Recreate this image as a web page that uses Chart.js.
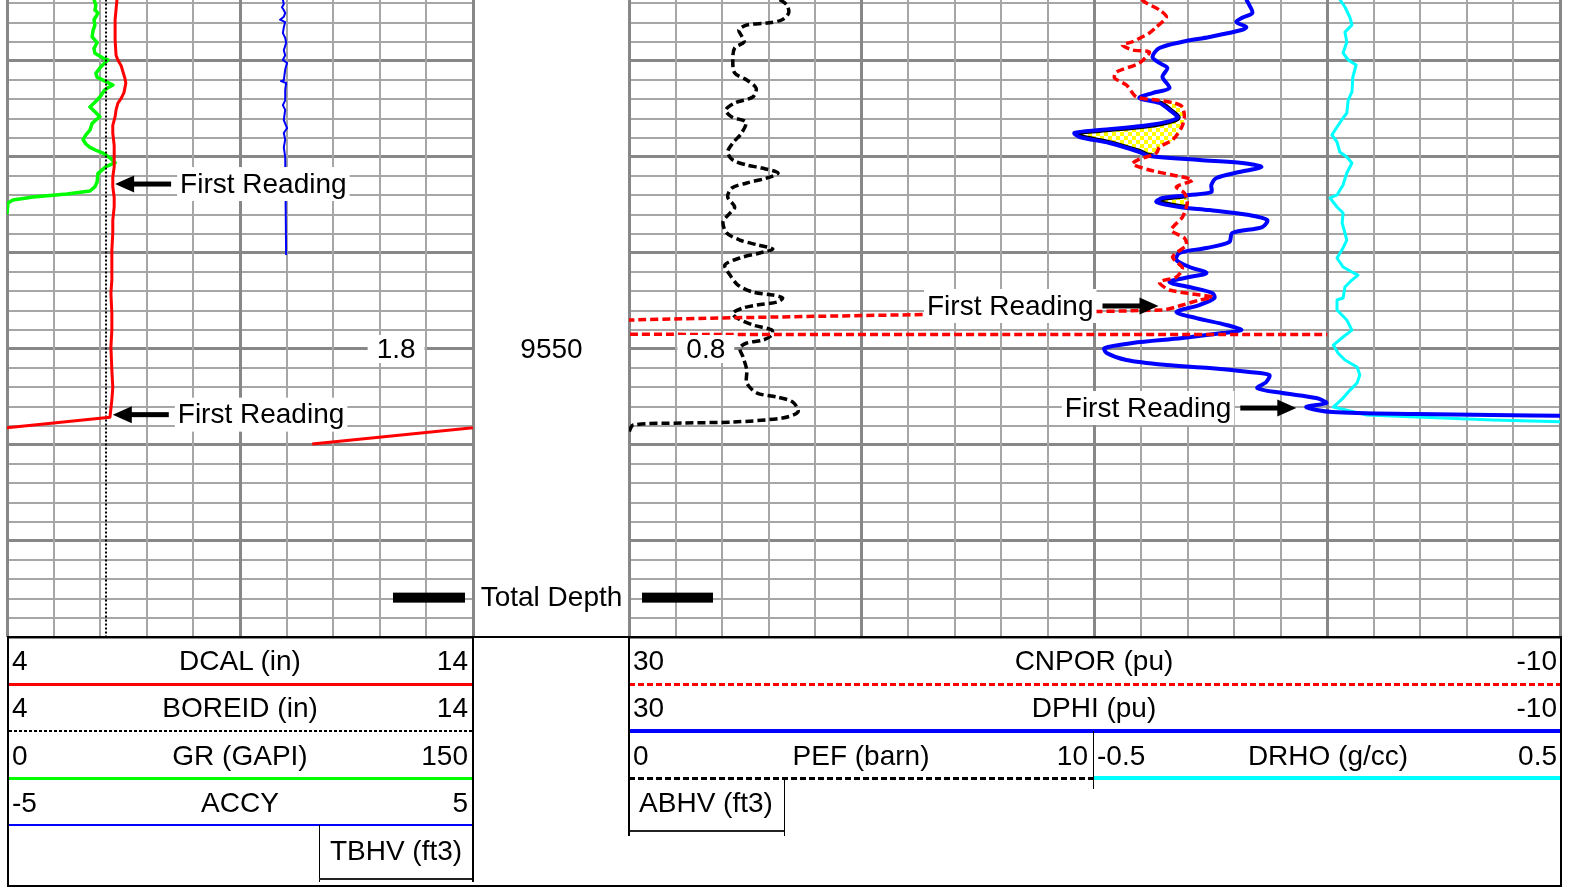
<!DOCTYPE html>
<html>
<head>
<meta charset="utf-8">
<script src="https://cdn.jsdelivr.net/npm/chart.js@4.4.1/dist/chart.umd.min.js"></script>
<style>
  html, body { margin: 0; padding: 0; background: #fff; }
  #page { position: relative; width: 1574px; height: 888px; overflow: hidden;
          font-family: "Liberation Sans", Arial, sans-serif; background: #fff; }
  canvas { position: absolute; top: 0; }
  #cL { left: 0; }
  #cR { left: 600px; }
  .t { position: absolute; font-size: 28px; line-height: 32px; height: 32px; white-space: nowrap; color: #000; }
  .ln { position: absolute; }
  #box { position: absolute; left: 7px; top: 636px; width: 1555px; height: 251px;
         border: 2px solid #000; box-sizing: border-box; }
</style>
</head>
<body>
<div id="page">
  <canvas id="cL" width="629" height="640"></canvas>
  <canvas id="cR" width="974" height="640"></canvas>
  <div id="box"></div>
</div>
<script>
// ---- Depth window (ft) ----
const DEPTH_TOP = 9513.65;
const DEPTH_BASE = 9580;
const depthLabels = [9550];
const totalDepth = 9575.9;

// ---- Curve scale ranges (left / right values as printed in the header) ----
const dcalRange = [4, 14];
const boreidRange = [4, 14];
const grRange = [0, 150];
const accyRange = [-5, 5];
const cnporRange = [30, -10];
const dphiRange = [30, -10];
const pefRange = [0, 10];
const drhoRange = [-0.5, 0.5];

// ---- Log samples: [depth ft, value] ----
const dcalSamples = [
  [9513.6, 6.36], [9515.7, 6.32], [9517.8, 6.32], [9519.4, 6.34], [9519.9, 6.38], [9520.5, 6.45],
  [9521.15, 6.49], [9521.8, 6.53], [9522.3, 6.55], [9522.8, 6.53], [9523.3, 6.51], [9523.9, 6.45],
  [9524.4, 6.38], [9525.1, 6.34], [9525.8, 6.32], [9526.7, 6.27], [9527.5, 6.27], [9528.8, 6.30],
  [9530.0, 6.30], [9531.05, 6.30], [9532.1, 6.27], [9533.1, 6.27], [9534.2, 6.30], [9535.2, 6.30],
  [9536.6, 6.27], [9537.9, 6.27], [9539.7, 6.25], [9541.5, 6.25], [9542.8, 6.25], [9544.2, 6.23],
  [9546.25, 6.25], [9548.0, 6.25], [9549.8, 6.23], [9552.2, 6.25], [9554.0, 6.27], [9555.3, 6.25],
  [9557.1, 6.21], [9559.9, 0.55]
];
const boreidSamples = [[9513.6, 6.125], [9580, 6.125]];
const grSamples = [
  [9513.6, 28.0], [9514.2, 28.6], [9514.7, 28.3], [9515.0, 29.3], [9515.4, 28.6], [9515.7, 28.0],
  [9516.3, 28.3], [9516.8, 27.7], [9517.5, 27.4], [9518.1, 29.0], [9518.7, 28.0], [9519.2, 28.3],
  [9519.7, 30.9], [9519.9, 32.5], [9520.3, 31.2], [9520.7, 29.9], [9521.3, 28.6], [9521.7, 29.0],
  [9522.0, 30.9], [9522.5, 34.1], [9522.8, 32.5], [9523.0, 31.5], [9523.75, 29.9], [9524.3, 28.3],
  [9524.8, 26.7], [9525.3, 28.3], [9525.8, 29.9], [9526.15, 28.6], [9526.5, 27.4], [9526.9, 27.0],
  [9527.2, 26.7], [9527.7, 25.4], [9528.2, 24.5], [9528.65, 25.4], [9529.0, 26.7], [9529.3, 28.6],
  [9529.6, 30.9], [9530.1, 33.2], [9530.6, 34.8], [9531.0, 31.9], [9531.7, 29.3], [9532.6, 29.0],
  [9533.1, 28.3], [9533.55, 26.7], [9533.86, 19.3], [9534.17, 8.4], [9534.48, 1.9], [9534.8, 0.3],
  [9535.84, 0.0]
];
const accySamples = [
  [9513.6, 0.92], [9514.1, 0.94], [9514.4, 0.90], [9514.7, 0.94], [9515.0, 0.97], [9515.4, 0.94],
  [9515.7, 0.86], [9515.95, 0.97], [9516.5, 0.94], [9517.1, 0.92], [9517.6, 0.97], [9518.1, 0.99],
  [9518.9, 0.94], [9519.4, 0.97], [9519.9, 0.92], [9520.2, 1.01], [9520.9, 0.97], [9522.0, 0.94],
  [9522.1, 0.88], [9522.3, 0.99], [9523.0, 0.97], [9524.1, 0.97], [9524.6, 0.92], [9525.1, 0.97],
  [9526.15, 0.94], [9527.0, 1.01], [9527.5, 0.94], [9528.2, 0.97], [9529.0, 0.94], [9530.0, 0.97],
  [9540.2, 0.99]
];
const pefSamples = [
  [9513.6, 3.24], [9514.17, 3.39], [9515.0, 3.43], [9515.73, 3.28], [9516.05, 2.96], [9516.25, 2.53],
  [9516.78, 2.36], [9517.4, 2.42], [9518.03, 2.47], [9518.65, 2.27], [9519.9, 2.23], [9521.25, 2.27],
  [9521.98, 2.53], [9522.82, 2.73], [9523.75, 2.66], [9524.38, 2.27], [9525.11, 2.08], [9525.84, 2.21],
  [9526.36, 2.51], [9527.5, 2.42], [9528.55, 2.23], [9529.48, 2.12], [9530.32, 2.23], [9530.84, 2.53],
  [9531.15, 2.85], [9531.67, 3.20], [9532.19, 2.96], [9532.71, 2.53], [9533.23, 2.21], [9534.17, 2.12],
  [9535.21, 2.27], [9535.84, 2.17], [9536.78, 2.02], [9537.92, 2.10], [9538.65, 2.38], [9539.17, 2.77],
  [9539.59, 3.09], [9540.0, 2.81], [9540.52, 2.38], [9541.25, 2.06], [9542.3, 2.17], [9543.34, 2.34],
  [9544.07, 2.66], [9544.38, 3.09], [9544.69, 3.30], [9545.11, 3.18], [9545.42, 2.75], [9545.73, 2.45],
  [9546.25, 2.23], [9546.78, 2.32], [9547.5, 2.66], [9548.03, 3.07], [9548.55, 3.07], [9549.07, 2.88],
  [9549.38, 2.53], [9549.9, 2.38], [9550.84, 2.45], [9552.19, 2.53], [9553.55, 2.53], [9554.59, 2.75],
  [9555.0, 3.18], [9555.53, 3.52], [9556.57, 3.63], [9557.19, 3.30], [9557.61, 2.23], [9557.71, 1.16],
  [9557.92, 0.09], [9558.65, 0.0]
];
const cnporSamples = [
  [9513.6, 7.98], [9513.96, 7.77], [9514.69, 7.21], [9515.42, 6.91], [9516.46, 7.34], [9517.09, 7.64],
  [9518.0, 8.37], [9518.34, 8.80], [9518.86, 8.37], [9519.07, 7.64], [9520.21, 8.07], [9521.15, 9.06],
  [9521.77, 9.14], [9522.5, 8.63], [9523.75, 8.20], [9524.07, 7.34], [9524.38, 6.57], [9524.8, 6.22],
  [9525.94, 6.14], [9526.98, 6.27], [9528.23, 6.65], [9528.96, 7.21], [9529.59, 7.34], [9530.32, 8.15],
  [9530.73, 8.37], [9531.36, 7.64], [9531.88, 6.65], [9532.4, 5.79], [9533.13, 6.48], [9533.75, 6.14],
  [9534.69, 6.01], [9536.26, 6.22], [9537.61, 6.70], [9538.44, 6.14], [9539.17, 6.05], [9540.42, 6.65],
  [9541.57, 6.22], [9542.5, 6.48], [9543.03, 7.21], [9543.86, 6.78], [9544.59, 4.94], [9544.9, 5.49],
  [9545.42, 6.22], [9545.94, 7.08], [9547.05, 31], [9548.3, 40], [9548.5, 0]
];
const cnporFirstReading = 9545.94;
const dphiSamples = [
  [9513.6, 3.48], [9514.17, 3.35], [9515.0, 3.22], [9515.5, 3.65], [9515.94, 3.91], [9516.46, 3.48],
  [9516.78, 3.69], [9517.5, 5.06], [9518.0, 6.22], [9518.65, 7.21], [9519.59, 7.51], [9520.21, 7.21],
  [9520.73, 6.87], [9521.67, 7.08], [9522.82, 6.78], [9523.34, 7.51], [9523.86, 8.07], [9524.38, 7.21],
  [9525.11, 6.78], [9525.94, 6.44], [9526.67, 7.64], [9527.19, 9.79], [9527.5, 10.86], [9527.92, 10.64],
  [9528.55, 9.36], [9529.48, 8.07], [9529.9, 7.64], [9530.32, 5.49], [9530.63, 3.65], [9531.05, 2.83],
  [9531.57, 3.78], [9532.19, 4.76], [9532.92, 4.98], [9533.65, 4.98], [9533.96, 5.92], [9534.27, 7.08],
  [9534.69, 7.34], [9535.21, 6.35], [9535.53, 5.06], [9536.05, 3.35], [9536.57, 2.58], [9537.3, 2.79],
  [9537.92, 4.08], [9538.86, 4.21], [9539.48, 5.19], [9540.0, 6.35], [9540.73, 6.48], [9541.46, 5.92],
  [9542.09, 5.19], [9542.5, 5.92], [9543.03, 6.78], [9543.55, 5.92], [9544.17, 4.94], [9544.69, 4.85],
  [9545.42, 5.49], [9546.15, 6.48], [9546.78, 5.62], [9547.5, 4.33], [9548.03, 3.69], [9548.34, 4.51],
  [9548.86, 6.22], [9549.38, 8.37], [9549.9, 9.57], [9550.42, 9.48], [9551.15, 8.63], [9551.67, 6.91],
  [9551.98, 5.06], [9552.4, 3.35], [9552.71, 2.49], [9553.44, 2.62], [9554.07, 3.00], [9554.59, 1.93],
  [9555.11, 0.47], [9555.63, 0.04], [9556.05, 0.90], [9556.57, -0.21], [9556.78, -3.82], [9556.88, -7.08],
  [9556.98, -10.5]
];
const drhoSamples = [
  [9513.6, 0.027], [9514.38, 0.038], [9515.5, 0.049], [9516.25, 0.053], [9517.0, 0.038], [9518.03, 0.042],
  [9519.17, 0.034], [9519.9, 0.045], [9520.42, 0.062], [9521.67, 0.055], [9523.23, 0.053], [9524.07, 0.045],
  [9525.42, 0.042], [9525.94, 0.034], [9526.88, 0.021], [9527.71, 0.010], [9528.44, 0.021], [9529.48, 0.027],
  [9530.0, 0.042], [9530.63, 0.053], [9531.67, 0.042], [9532.92, 0.034], [9533.96, 0.021], [9534.27, 0.006],
  [9535.21, 0.021], [9535.84, 0.034], [9536.88, 0.032], [9537.92, 0.038], [9538.65, 0.042], [9539.48, 0.034],
  [9540.52, 0.021], [9541.46, 0.034], [9541.98, 0.053], [9542.3, 0.066], [9542.82, 0.053], [9543.55, 0.038],
  [9544.69, 0.034], [9544.9, 0.021], [9545.94, 0.021], [9546.98, 0.042], [9548.03, 0.053], [9548.75, 0.034],
  [9549.59, 0.013], [9550.42, 0.023], [9551.15, 0.038], [9551.88, 0.064], [9552.71, 0.070], [9553.55, 0.064],
  [9554.28, 0.049], [9555.11, 0.034], [9556.05, 0.013], [9556.88, 0.085], [9557.09, 0.193], [9557.4, 0.356],
  [9557.61, 0.52]
];

// Borehole volume ticks and "First Reading" notes
const tbhvTicks = [[9550, '1.8']];
const abhvTicks = [[9550, '0.8']];
const leftNotes = [
  { depth: 9532.82, value: 6.32, axis: 'xCal', dir: 'left' },
  { depth: 9556.84, value: 6.27, axis: 'xCal', dir: 'left' }
];
const rightNotes = [
  { depth: 9545.52, value: 7.25, axis: 'xPhi', dir: 'right' },
  { depth: 9556.15, value: 1.33, axis: 'xPhi', dir: 'right' }
];

// ---- Helpers ----
const FONT = '28px "Liberation Sans", Arial, sans-serif';
const GRID_MINOR = '#a6a6a6';
const GRID_MAJOR = '#878787';
const toPts = s => s.map(([d, v]) => ({ x: v, y: d }));

function depthScale() {
  return {
    type: 'linear', axis: 'y', position: 'left', reverse: true,
    min: DEPTH_TOP, max: DEPTH_BASE,
    ticks: { display: false, stepSize: 2, includeBounds: false },
    grid: {
      drawTicks: false,
      color: c => (c.tick && c.tick.value % 10 === 0) ? GRID_MAJOR : GRID_MINOR,
      lineWidth: c => (c.tick && c.tick.value % 10 === 0) ? 3 : 2
    },
    border: { display: false }
  };
}
function divisionScale(n) {
  return {
    type: 'linear', axis: 'x', position: 'bottom', min: 0, max: n,
    ticks: { display: false, stepSize: 1, includeBounds: false },
    grid: {
      drawTicks: false,
      color: c => (c.tick && c.tick.value % 5 === 0) ? GRID_MAJOR : GRID_MINOR,
      lineWidth: c => (c.tick && c.tick.value % 5 === 0) ? 3 : 2
    },
    border: { display: false }
  };
}
function valueScale(lo, hi) {
  const rev = lo > hi;
  return { type: 'linear', axis: 'x', position: 'top', display: false,
           min: Math.min(lo, hi), max: Math.max(lo, hi), reverse: rev };
}
function curve(label, samples, axis, color, width, dash, tension) {
  return {
    label, data: toPts(samples), xAxisID: axis, yAxisID: 'y',
    borderColor: color, borderWidth: width, borderDash: dash || [],
    borderJoinStyle: 'round', pointRadius: 0, tension: tension || 0, fill: false
  };
}

function drawNote(ctx, tipX, y, dir) {
  const text = 'First Reading';
  ctx.save();
  ctx.font = FONT;
  const w = ctx.measureText(text).width;
  const gap = 65;
  const tx = dir === 'left' ? tipX + gap : tipX - gap - w;
  ctx.fillStyle = '#fff';
  ctx.fillRect(tx - 3, y - 17, w + 6, 34);
  ctx.fillStyle = '#000';
  ctx.textAlign = 'left';
  ctx.textBaseline = 'middle';
  ctx.fillText(text, tx, y + 1);
  const s = dir === 'left' ? 1 : -1;
  const x1 = tipX + s * 14, x2 = tipX + s * 56;
  ctx.fillRect(Math.min(x1, x2), y - 2.5, Math.abs(x2 - x1), 5);
  ctx.beginPath();
  ctx.moveTo(tipX, y);
  ctx.lineTo(tipX + s * 19, y - 8.5);
  ctx.lineTo(tipX + s * 19, y + 8.5);
  ctx.closePath();
  ctx.fill();
  ctx.restore();
}
function drawBoxedLabel(ctx, text, cx, cy) {
  ctx.save();
  ctx.font = FONT;
  const w = ctx.measureText(text).width;
  ctx.fillStyle = '#fff';
  ctx.fillRect(cx - w / 2 - 9, cy - 14, w + 18, 28);
  ctx.fillStyle = '#000';
  ctx.textAlign = 'center';
  ctx.textBaseline = 'middle';
  ctx.fillText(text, cx, cy + 1);
  ctx.restore();
}

// ---- Left track: caliper / GR / accelerometer ----
const leftDecor = {
  id: 'leftDecor',
  afterDatasetsDraw(chart) {
    const { ctx, chartArea: a, scales } = chart;
    const ys = scales.y;
    leftNotes.forEach(n => drawNote(ctx, scales[n.axis].getPixelForValue(n.value), ys.getPixelForValue(n.depth), n.dir));
    tbhvTicks.forEach(([d, t]) => drawBoxedLabel(ctx, t, scales.gx.getPixelForValue(8.35), ys.getPixelForValue(d)));
    // depth column
    const mid = (a.right + chart.width) / 2 + 0.5;
    ctx.save();
    ctx.font = FONT;
    ctx.fillStyle = '#000';
    ctx.textAlign = 'center';
    ctx.textBaseline = 'middle';
    depthLabels.forEach(d => ctx.fillText(String(d), mid, ys.getPixelForValue(d) + 1));
    const yTD = ys.getPixelForValue(totalDepth);
    ctx.fillText('Total Depth', mid, yTD + 1);
    ctx.fillRect(a.right - 80, yTD - 5, 72, 10);
    ctx.restore();
  }
};

new Chart(document.getElementById('cL'), {
  type: 'line',
  data: {
    datasets: [
      curve('DCAL', dcalSamples, 'xCal', '#ff0000', 3),
      curve('DCAL backup', dcalSamples.map(([d, v]) => [d, v + (dcalRange[1] - dcalRange[0])]), 'xCal', '#ff0000', 3),
      curve('BOREID', boreidSamples, 'xCal', '#000000', 2, [2, 2]),
      curve('GR', grSamples, 'xGr', '#00ff00', 3.5),
      curve('ACCY', accySamples, 'xAccy', '#0000ff', 2)
    ]
  },
  options: {
    responsive: false, animation: false, devicePixelRatio: 1, indexAxis: 'y', events: [],
    layout: { padding: { left: 7, right: 156, top: 0, bottom: 3 } },
    plugins: { legend: { display: false }, tooltip: { enabled: false } },
    scales: {
      y: depthScale(),
      gx: divisionScale(10),
      xCal: valueScale(dcalRange[0], dcalRange[1]),
      xGr: valueScale(grRange[0], grRange[1]),
      xAccy: valueScale(accyRange[0], accyRange[1])
    }
  },
  plugins: [leftDecor]
});

// ---- Right track: porosity / PEF / DRHO ----
function checkerPattern(ctx) {
  const c = document.createElement('canvas');
  c.width = 8; c.height = 8;
  const g = c.getContext('2d');
  g.fillStyle = '#ffff00'; g.fillRect(0, 0, 8, 8);
  g.fillStyle = '#ffffff'; g.fillRect(0, 0, 4, 4); g.fillRect(4, 4, 4, 4);
  return ctx.createPattern(c, 'repeat');
}
const IDX_CNPOR = 0, IDX_DPHI = 1;
// neutron / density crossover shading
const crossoverFill = {
  id: 'crossoverFill',
  afterDatasetsUpdate(chart) {},
  beforeDatasetsDraw(chart) {
    const { ctx, chartArea: a, scales } = chart;
    const cn = chart.getDatasetMeta(IDX_CNPOR).data.filter((p, i) => cnporSamples[i][0] <= cnporFirstReading && isFinite(p.x));
    const dp = chart.getDatasetMeta(IDX_DPHI).data.filter((p, i) => dphiSamples[i][0] <= cnporFirstReading && isFinite(p.x));
    if (!cn.length || !dp.length) return;
    const yLim = scales.y.getPixelForValue(cnporFirstReading);
    const trace = (pts) => {
      pts.forEach((p, i) => {
        if (i === 0) { ctx.lineTo(p.x, p.y); return; }
        const q = pts[i - 1];
        if (q.cp2x !== undefined && p.cp1x !== undefined) ctx.bezierCurveTo(q.cp2x, q.cp2y, p.cp1x, p.cp1y, p.x, p.y);
        else ctx.lineTo(p.x, p.y);
      });
    };
    ctx.save();
    ctx.beginPath();
    ctx.rect(a.left, a.top, a.right - a.left, yLim - a.top);
    ctx.clip();
    ctx.beginPath();
    ctx.moveTo(a.left, cn[0].y);
    trace(cn);
    ctx.lineTo(a.left, cn[cn.length - 1].y);
    ctx.closePath();
    ctx.clip();
    ctx.beginPath();
    ctx.moveTo(a.right, dp[0].y);
    trace(dp);
    ctx.lineTo(a.right, dp[dp.length - 1].y);
    ctx.closePath();
    ctx.fillStyle = checkerPattern(ctx);
    ctx.fill();
    ctx.clip();
    ctx.beginPath();
    ctx.moveTo(dp[0].x, dp[0].y);
    trace(dp);
    ctx.strokeStyle = '#000';
    ctx.lineWidth = 6;
    ctx.lineJoin = 'round';
    ctx.stroke();
    ctx.restore();
  }
};
const rightDecor = {
  id: 'rightDecor',
  afterDatasetsDraw(chart) {
    const { ctx, chartArea: a, scales } = chart;
    const ys = scales.y;
    rightNotes.forEach(n => drawNote(ctx, scales[n.axis].getPixelForValue(n.value), ys.getPixelForValue(n.depth), n.dir));
    abhvTicks.forEach(([d, t]) => drawBoxedLabel(ctx, t, scales.gx.getPixelForValue(1.65), ys.getPixelForValue(d)));
    ctx.save();
    ctx.fillStyle = '#000';
    ctx.fillRect(a.left + 13, ys.getPixelForValue(totalDepth) - 5, 71, 10);
    ctx.restore();
  }
};

new Chart(document.getElementById('cR'), {
  type: 'line',
  data: {
    datasets: [
      curve('CNPOR', cnporSamples, 'xPhi', '#ff0000', 3.5, [8, 4], 0.25),
      curve('DPHI', dphiSamples, 'xPhi', '#0000ff', 4, null, 0.3),
      curve('PEF', pefSamples, 'xPef', '#000000', 3.5, [8, 4], 0.3),
      curve('DRHO', drhoSamples, 'xDrho', '#00ffff', 3)
    ]
  },
  options: {
    responsive: false, animation: false, devicePixelRatio: 1, indexAxis: 'y', events: [],
    layout: { padding: { left: 29, right: 14, top: 0, bottom: 3 } },
    plugins: { legend: { display: false }, tooltip: { enabled: false } },
    scales: {
      y: depthScale(),
      gx: divisionScale(20),
      xPhi: valueScale(cnporRange[0], cnporRange[1]),
      // PEF occupies the left half of the track, DRHO the right half
      xPef: valueScale(pefRange[0], pefRange[1] + (pefRange[1] - pefRange[0])),
      xDrho: valueScale(drhoRange[0] - (drhoRange[1] - drhoRange[0]), drhoRange[1])
    }
  },
  plugins: [crossoverFill, rightDecor]
});

// ---- Header ----
const page = document.getElementById('page');
function txt(s, x, yc, align) {
  const d = document.createElement('div');
  d.className = 't';
  d.textContent = s;
  d.style.top = Math.round(yc - 16) + 'px';
  if (align === 'l') d.style.left = x + 'px';
  else if (align === 'r') d.style.right = (1574 - x) + 'px';
  else { d.style.left = x + 'px'; d.style.transform = 'translateX(-50%)'; }
  page.appendChild(d);
}
function hline(x1, x2, y, color, w, dash) {
  const d = document.createElement('div');
  d.className = 'ln';
  d.style.left = x1 + 'px';
  d.style.width = (x2 - x1) + 'px';
  d.style.top = Math.round(y - w / 2) + 'px';
  d.style.height = w + 'px';
  d.style.background = dash
    ? `repeating-linear-gradient(90deg, ${color} 0 ${dash[0]}px, transparent ${dash[0]}px ${dash[0] + dash[1]}px)`
    : color;
  page.appendChild(d);
}
function vline(x, y1, y2, color, w) {
  const d = document.createElement('div');
  d.className = 'ln';
  d.style.left = Math.round(x - w / 2) + 'px';
  d.style.width = w + 'px';
  d.style.top = y1 + 'px';
  d.style.height = (y2 - y1) + 'px';
  d.style.background = color;
  page.appendChild(d);
}

const leftRows = [
  ['DCAL (in)', dcalRange, '#ff0000', 3, null],
  ['BOREID (in)', boreidRange, '#000000', 2, [3, 2]],
  ['GR (GAPI)', grRange, '#00ff00', 3, null],
  ['ACCY', accyRange, '#0000ff', 2, null]
];
leftRows.forEach(([name, r, col, w, dash], i) => {
  const yt = 661 + i * 47.3, yl = 684 + i * 47;
  txt(String(r[0]), 12, yt, 'l');
  txt(name, 240, yt, 'c');
  txt(String(r[1]), 468, yt, 'r');
  hline(9, 472, yl, col, w, dash);
});
txt('TBHV (ft3)', 396, 851, 'c');
vline(319, 825, 882, '#000', 1);
hline(319, 473, 879, '#222', 2);
vline(473, 637, 882, '#000', 2);

txt(String(cnporRange[0]), 633, 661, 'l');
txt('CNPOR (pu)', 1094, 661, 'c');
txt(String(cnporRange[1]), 1557, 661, 'r');
hline(629, 1560, 684, '#ff0000', 3, [6, 3]);
txt(String(dphiRange[0]), 633, 708, 'l');
txt('DPHI (pu)', 1094, 708, 'c');
txt(String(dphiRange[1]), 1557, 708, 'r');
hline(629, 1560, 731, '#0000ff', 4);
txt(String(pefRange[0]), 633, 756, 'l');
txt('PEF (barn)', 861, 756, 'c');
txt(String(pefRange[1]), 1088, 756, 'r');
txt(String(drhoRange[0]), 1097, 756, 'l');
txt('DRHO (g/cc)', 1328, 756, 'c');
txt(String(drhoRange[1]), 1557, 756, 'r');
hline(629, 1093, 778, '#000', 3, [6, 3]);
hline(1093, 1560, 778, '#00ffff', 4);
vline(1093, 731, 789, '#000', 1);
txt('ABHV (ft3)', 706, 803, 'c');
vline(784, 778, 836, '#000', 1);
hline(629, 784, 831, '#222', 2);
vline(629, 637, 836, '#000', 2);
</script>
</body>
</html>
